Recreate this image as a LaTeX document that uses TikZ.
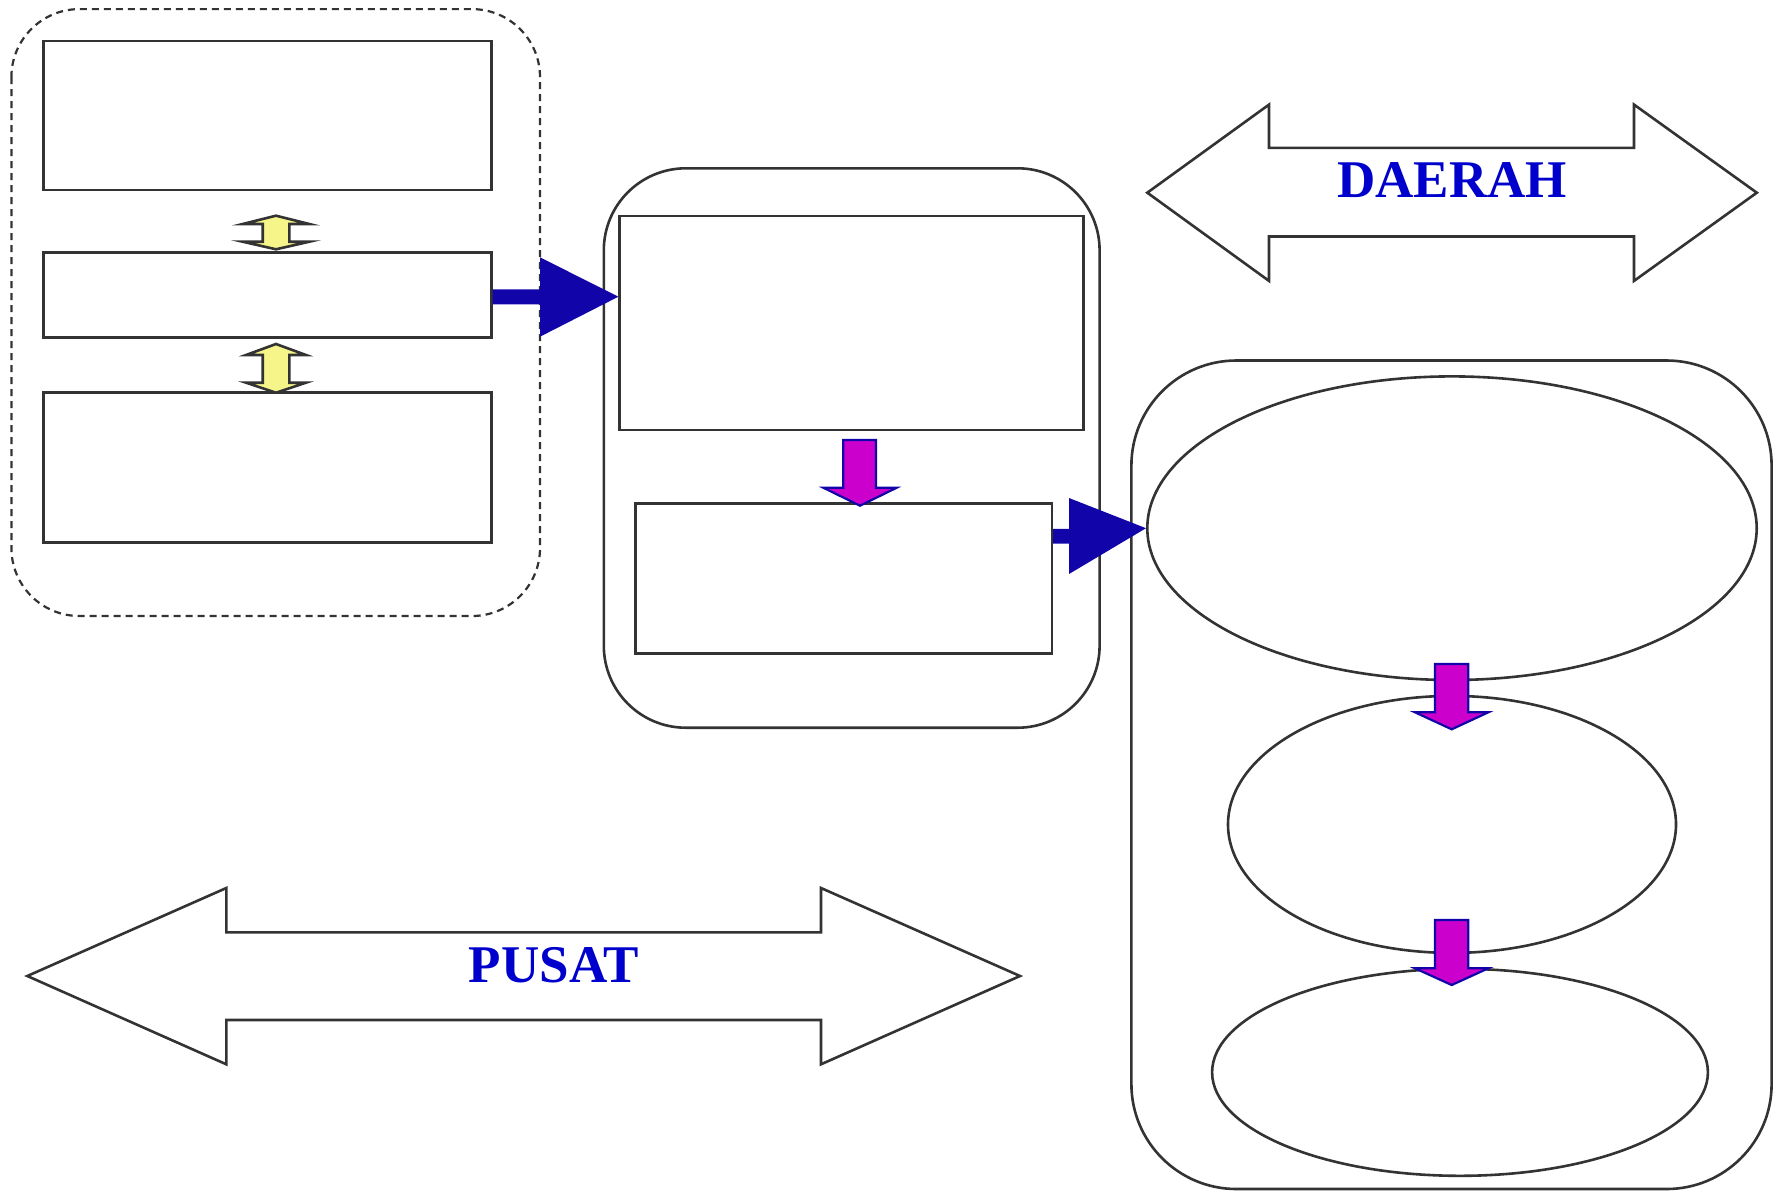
\documentclass[tikz,border=0pt]{standalone}
\usepackage{fontspec}
\setmainfont{Liberation Serif}
\usetikzlibrary{shapes.geometric}
\definecolor{edge}{HTML}{333333}
\definecolor{lbl}{HTML}{0000CC}
\definecolor{bluearrow}{HTML}{1105AA}
\definecolor{magarrow}{HTML}{CC00CC}
\definecolor{yel}{HTML}{F5F58A}
\tikzset{
  box/.style={draw=edge, line width=2.6pt, rectangle, inner sep=0pt},
  frame/.style={draw=edge, line width=2.6pt, rounded corners=#1},
  oval/.style={draw=edge, line width=2.6pt, ellipse, inner sep=0pt},
  bigblock/.style={draw=edge, line width=2.6pt, fill=white},
  blockarrow/.style={fill=bluearrow, draw=none},
  downarrow/.style={fill=magarrow, draw=bluearrow, line width=2.2pt, line join=miter},
  yarrow/.style={fill=yel, draw=edge, line width=2.6pt, line join=miter},
  title/.style={text=lbl, font=\bfseries\fontsize{53}{60}\selectfont}
}
\begin{document}
\begin{tikzpicture}[x=1pt,y=-1pt]
\useasboundingbox (0,0) rectangle (1783,1192);
% left group
\draw[edge, line width=2.2pt, dash pattern=on 7pt off 5pt, rounded corners=68pt] (11.4,9.1) rectangle (540,616);
\node[box, minimum width=448pt, minimum height=149pt] (b1) at (267.2,115.4) {};
\node[box, minimum width=448pt, minimum height=85.3pt] (b2) at (267.2,295) {};
\node[box, minimum width=448pt, minimum height=150pt] (b3) at (267.2,467.3) {};
% yellow double arrows
\draw[yarrow] (276,215.7) -- (309.3,224) -- (289.3,224) -- (289.3,241.7) -- (309.3,241.7) -- (276,249.3) -- (242.7,241.7) -- (262.7,241.7) -- (262.7,224) -- (242.7,224) -- cycle;
\draw[yarrow] (276,344) -- (306,355) -- (289.3,355) -- (289.3,382.7) -- (306,382.7) -- (276,392.7) -- (246,382.7) -- (262.7,382.7) -- (262.7,355) -- (246,355) -- cycle;
% middle group
\draw[frame=82pt] (603.8,168.3) rectangle (1099.6,727.7);
\node[box, minimum width=464pt, minimum height=213.8pt] (ma) at (851.7,322.9) {};
\node[box, minimum width=416.2pt, minimum height=150pt] (mb) at (843.7,578.7) {};
\draw[downarrow] (843.3,440) -- (876,440) -- (876,487.7) -- (896.7,487.7) -- (860,505.7) -- (823.3,487.7) -- (843.3,487.7) -- cycle;
% right group
\draw[frame=105pt] (1131.4,360.5) rectangle (1771.6,1189);
\node[oval, minimum width=609.4pt, minimum height=303.6pt] (e1) at (1452,528.2) {};
\node[oval, minimum width=448pt, minimum height=257pt] (e2) at (1452,824.4) {};
\node[oval, minimum width=495.8pt, minimum height=207pt] (e3) at (1460,1072.3) {};
\draw[downarrow] (1435,664) -- (1468.3,664) -- (1468.3,712.3) -- (1488.3,712.3) -- (1451.7,729.3) -- (1415,712.3) -- (1435,712.3) -- cycle;
\draw[downarrow] (1435,920) -- (1468.3,920) -- (1468.3,968.3) -- (1488.3,968.3) -- (1451.7,985) -- (1415,968.3) -- (1435,968.3) -- cycle;
% blue arrows
\fill[blockarrow] (b2.east |- 0,289.3) -- (540,289.3) -- (540,257.3) -- (ma.west |- 0,296.7) -- (540,336.7) -- (540,304.3) -- (b2.east |- 0,304.3) -- cycle;
\fill[blockarrow] (mb.east |- 0,528.8) -- (1069,528.8) -- (1069,498) -- (e1.west) -- (1069,574) -- (1069,543.5) -- (mb.east |- 0,543.5) -- cycle;
% DAERAH arrow
\draw[bigblock, line join=miter] (1147.3,192.7) -- (1269,104.6) -- (1269,147.8) -- (1634,147.8) -- (1634,104.6) -- (1756.8,192.7) -- (1634,280.9) -- (1634,236.5) -- (1269,236.5) -- (1269,280.9) -- cycle;
\node[title] (daerah) at (1452,180) {DAERAH};
% PUSAT arrow
\draw[bigblock, line join=miter] (27.3,976) -- (226.3,888) -- (226.3,932.4) -- (821,932.4) -- (821,888) -- (1020,976) -- (821,1064.3) -- (821,1020) -- (226.3,1020) -- (226.3,1064.3) -- cycle;
\node[title] (pusat) at (553.8,965) {PUSAT};
\end{tikzpicture}
\end{document}
